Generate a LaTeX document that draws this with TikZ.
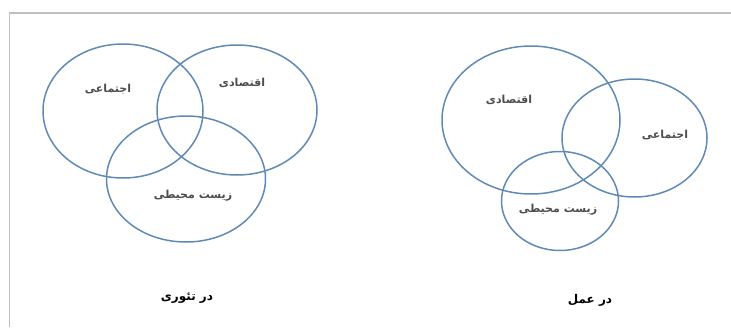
\documentclass[tikz,border=0pt]{standalone}
\usepackage{fontspec}
\usetikzlibrary{shapes.geometric}
\TeXXeTstate=1
\newfontfamily\arabicfont[Script=Arabic]{DejaVu Sans}
\definecolor{ringblue}{RGB}{96,138,182}
\definecolor{framegray}{RGB}{192,192,192}
\tikzset{
  ring/.style={draw=ringblue, line width=1.5pt},
  lbl/.style={font=\arabicfont\bfseries\fontsize{11}{13}\selectfont, text=black!70},
  captext/.style={font=\arabicfont\bfseries\fontsize{12}{14}\selectfont, text=black}
}
\begin{document}
\begin{tikzpicture}[x=1pt,y=-1pt]
\useasboundingbox (0,0) rectangle (731,327);
\draw[framegray, line width=1.2pt] (9.5,327) -- (9.5,13) -- (731,13);
% left diagram (theory)
\node[ring, ellipse, minimum width=160pt, minimum height=134pt, inner sep=0pt] (s1) at (123,111) {};
\node[ring, ellipse, minimum width=160pt, minimum height=130pt, inner sep=0pt] (e1) at (237,110) {};
\node[ring, ellipse, minimum width=159pt, minimum height=126pt, inner sep=0pt] (v1) at (186,179) {};
\node[lbl] (ts1) at (108,89) {\beginR اجتماعی\endR};
\node[lbl] (te1) at (242,83) {\beginR اقتصادی\endR};
\node[lbl] (tv1) at (193,196) {\beginR زیست محیطی\endR};
\node[captext] (c1) at (187,298) {\beginR در تئوری\endR};
% right diagram (practice)
\node[ring, ellipse, minimum width=178pt, minimum height=148pt, inner sep=0pt] (e2) at (531,120) {};
\node[ring, ellipse, minimum width=145pt, minimum height=118pt, inner sep=0pt] (s2) at (634.5,138) {};
\node[ring, ellipse, minimum width=117pt, minimum height=99pt, inner sep=0pt] (v2) at (560,201) {};
\node[lbl] (te2) at (509,100) {\beginR اقتصادی\endR};
\node[lbl] (ts2) at (665,135) {\beginR اجتماعی\endR};
\node[lbl] (tv2) at (558,210) {\beginR زیست محیطی\endR};
\node[captext] (c2) at (590,300) {\beginR در عمل\endR};
\end{tikzpicture}
\end{document}
